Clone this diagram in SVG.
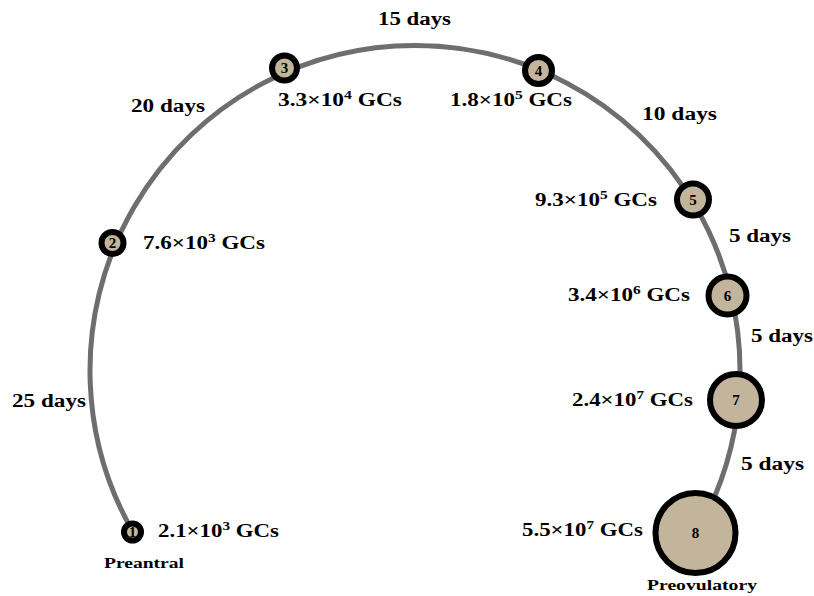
<svg xmlns="http://www.w3.org/2000/svg" width="814" height="596" viewBox="0 0 814 596">
<style>
text{font-family:"Liberation Serif","DejaVu Serif",serif;font-weight:bold;fill:#000}
.lbl{font-size:18px}
.small{font-size:15px}
.num{font-size:15px;text-anchor:middle}
.node circle{fill:#c2b59b;stroke:#000;stroke-width:6}
.arc{fill:none;stroke:#6e6e6e;stroke-width:5}
</style>
<rect width="814" height="596" fill="#fff"/>
<g id="connectors">
<path class="arc" d="M 133 532 A 325 325 0 1 1 697 532"/>
</g>
<g id="days">
<text class="lbl" x="378" y="25" textLength="73" lengthAdjust="spacingAndGlyphs">15 days</text>
<text class="lbl" x="131" y="112" textLength="74" lengthAdjust="spacingAndGlyphs">20 days</text>
<text class="lbl" x="642" y="120" textLength="75" lengthAdjust="spacingAndGlyphs">10 days</text>
<text class="lbl" x="729" y="242" textLength="62" lengthAdjust="spacingAndGlyphs">5 days</text>
<text class="lbl" x="751" y="342" textLength="62" lengthAdjust="spacingAndGlyphs">5 days</text>
<text class="lbl" x="741" y="470" textLength="63" lengthAdjust="spacingAndGlyphs">5 days</text>
<text class="lbl" x="12" y="407" textLength="74" lengthAdjust="spacingAndGlyphs">25 days</text>
</g>
<g id="node1" class="node">
<circle cx="132.5" cy="532" r="8.5"/>
<text class="num" x="132.5" y="537">1</text>
<text class="lbl" x="158" y="537" textLength="121" lengthAdjust="spacingAndGlyphs">2.1×10<tspan dy="-7" font-size="12">3</tspan><tspan dy="7"> GCs</tspan></text>
<text class="small" x="104" y="568" textLength="80" lengthAdjust="spacingAndGlyphs">Preantral</text>
</g>
<g id="node2" class="node">
<circle cx="112.5" cy="243" r="11"/>
<text class="num" x="112.5" y="248">2</text>
<text class="lbl" x="143" y="249" textLength="122" lengthAdjust="spacingAndGlyphs">7.6×10<tspan dy="-7" font-size="12">3</tspan><tspan dy="7"> GCs</tspan></text>
</g>
<g id="node3" class="node">
<circle cx="284.5" cy="68" r="12.5"/>
<text class="num" x="284.5" y="73">3</text>
<text class="lbl" x="278" y="106" textLength="124" lengthAdjust="spacingAndGlyphs">3.3×10<tspan dy="-7" font-size="12">4</tspan><tspan dy="7"> GCs</tspan></text>
</g>
<g id="node4" class="node">
<circle cx="538.5" cy="70.5" r="13.5"/>
<text class="num" x="538.5" y="75.5">4</text>
<text class="lbl" x="450" y="106" textLength="122" lengthAdjust="spacingAndGlyphs">1.8×10<tspan dy="-7" font-size="12">5</tspan><tspan dy="7"> GCs</tspan></text>
</g>
<g id="node5" class="node">
<circle cx="693" cy="199.5" r="16"/>
<text class="num" x="693" y="204.5">5</text>
<text class="lbl" x="535" y="206" textLength="122" lengthAdjust="spacingAndGlyphs">9.3×10<tspan dy="-7" font-size="12">5</tspan><tspan dy="7"> GCs</tspan></text>
</g>
<g id="node6" class="node">
<circle cx="727.5" cy="295.5" r="19"/>
<text class="num" x="727.5" y="300.5">6</text>
<text class="lbl" x="568" y="301" textLength="122" lengthAdjust="spacingAndGlyphs">3.4×10<tspan dy="-7" font-size="12">6</tspan><tspan dy="7"> GCs</tspan></text>
</g>
<g id="node7" class="node">
<circle cx="736" cy="400" r="26"/>
<text class="num" x="736" y="405">7</text>
<text class="lbl" x="572" y="406" textLength="121" lengthAdjust="spacingAndGlyphs">2.4×10<tspan dy="-7" font-size="12">7</tspan><tspan dy="7"> GCs</tspan></text>
</g>
<g id="node8" class="node">
<circle cx="695.5" cy="533" r="40"/>
<text class="num" x="695.5" y="538">8</text>
<text class="lbl" x="522" y="536" textLength="121" lengthAdjust="spacingAndGlyphs">5.5×10<tspan dy="-7" font-size="12">7</tspan><tspan dy="7"> GCs</tspan></text>
<text class="small" x="647" y="590" textLength="110" lengthAdjust="spacingAndGlyphs">Preovulatory</text>
</g>
</svg>
